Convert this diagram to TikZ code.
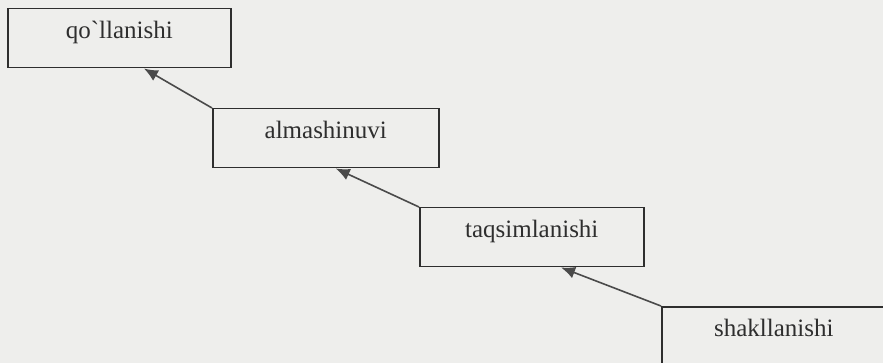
\documentclass[tikz,border=0pt]{standalone}
\usepackage{fontspec}
\setmainfont{Liberation Serif}
\usetikzlibrary{arrows.meta,calc}
\definecolor{bg}{HTML}{EEEEEC}
\definecolor{ink}{HTML}{2E2E2E}
\definecolor{linegray}{HTML}{4A4A4A}
\begin{document}
\begin{tikzpicture}[x=0.5pt,y=-0.5pt,
  stagebox/.style={draw=ink,line width=0.75pt,fill=none,anchor=north west,
    inner sep=0pt,minimum height=29.5pt,text height=0.5em,text depth=0.5em,
    font=\fontsize{12.5}{15}\selectfont,text=ink},
  link/.style={draw=linegray,line width=0.8pt,-{Latex[length=7pt,width=6pt]}}]
\fill[bg] (0,0) rectangle (883,363);
\useasboundingbox (0,0) rectangle (883,363);
\clip (0,0) rectangle (883,363);
\node[stagebox,minimum width=111.5pt] (b1) at (7,8) {qo\textasciigrave llanishi};
\node[stagebox,minimum width=113pt] (b2) at (212,108) {almashinuvi};
\node[stagebox,minimum width=112pt] (b3) at (419,207) {taqsimlanishi};
\node[stagebox,minimum width=112pt] (b4) at (661,306) {shakllanishi};
\draw[link] (b2.north west) -- ($(b1.south west)!0.61!(b1.south east)$);
\draw[link] (b3.north west) -- ($(b2.south west)!0.544!(b2.south east)$);
\draw[link] (b4.north west) -- ($(b3.south west)!0.63!(b3.south east)$);
\end{tikzpicture}
\end{document}
